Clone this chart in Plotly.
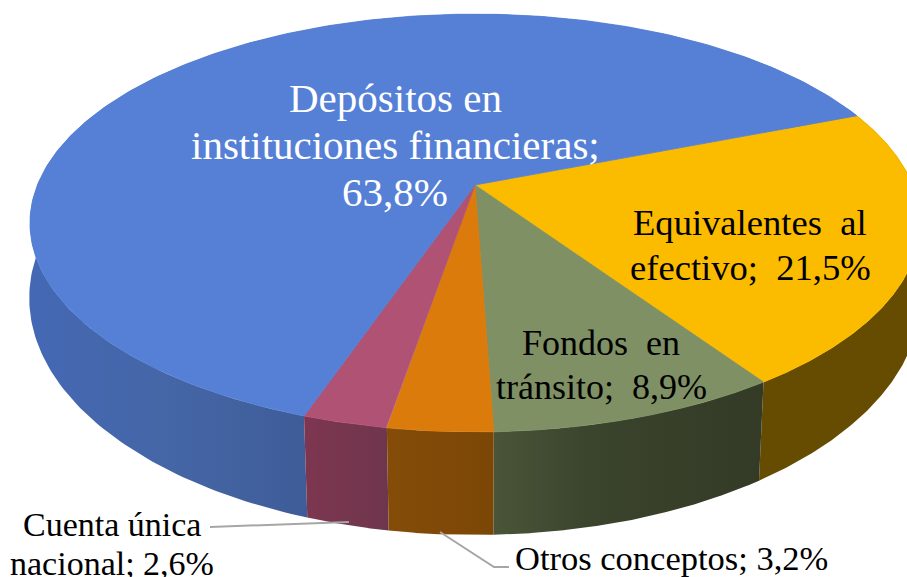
import numpy as np
import plotly.graph_objects as go

categories = ["Equivalentes  al", "Fondos en", "Otros conceptos", "Cuenta única", "Depósitos en"]
values = [21.5, 8.9, 3.2, 2.6, 63.8]
top_colors = ["#FBBC00", "#7F9064", "#DB7B0B", "#B05274", "#5580D6"]
wall_colors = [
    [[0, "#654C00"], [1, "#654C00"]],
    [[0, "#4A5538"], [0.35, "#3B442D"], [1, "#333A26"]],
    [[0, "#844C08"], [1, "#7C4606"]],
    [[0, "#7E3650"], [1, "#6E364C"]],
    [[0, "#4468B4"], [0.5, "#4566A6"], [1, "#3E5C98"]],
]
label_lines = [
    ["Equivalentes  al", "efectivo;  {}"],
    ["Fondos  en", "tránsito;  {}"],
    ["Otros conceptos; {}"],
    ["Cuenta única", "nacional; {}"],
    ["Depósitos en", "instituciones financieras;", "{}"],
]

# Perspective model of the pie disc (top face and bottom face)
CX, CY, RX, RY, K = 475, 185, 437.6, 202, 0.182
BX, BCY, BY, BK = 440, 260, 231, 0.16
START = np.radians(-21.45)


def top(t):
    w = 1 - K * np.sin(t)
    return CX + RX * np.cos(t) / w, CY + RY * np.sin(t) / w


def bottom(t):
    w = 1 - BK * np.sin(t)
    return CX + BX * np.cos(t) / w, BCY + BY * np.sin(t) / w


fracs = np.array(values) / sum(values)
edges = START + 2 * np.pi * np.concatenate([[0], np.cumsum(fracs)])

fig = go.Figure()
# side walls, back to front
for i in [4, 0, 3, 1, 2]:
    t = np.linspace(edges[i], edges[i + 1], 240)
    xt, yt = top(t)
    xb, yb = bottom(t)
    vis = np.sin(t) > -0.05
    x = np.concatenate([xt, xb[::-1]])
    y = np.concatenate([yt, yb[::-1]])
    fig.add_trace(go.Scatter(
        x=x, y=y, mode="lines", fill="toself", line=dict(width=0),
        fillgradient=dict(type="horizontal", colorscale=wall_colors[i],
                          start=float(xt[vis].min()), stop=float(xt[vis].max())),
        hoverinfo="skip", showlegend=False))
# top surface
for i in range(5):
    t = np.linspace(edges[i], edges[i + 1], 240)
    xt, yt = top(t)
    fig.add_trace(go.Scatter(
        x=np.concatenate([[CX], xt, [CX]]), y=np.concatenate([[CY], yt, [CY]]),
        mode="lines", fill="toself", fillcolor=top_colors[i],
        line=dict(width=0.8, color=top_colors[i]), hoverinfo="skip", showlegend=False))

# leader lines
fig.add_trace(go.Scatter(x=[210, 349], y=[527, 522], mode="lines",
                         line=dict(color="#A6A6A6", width=2), hoverinfo="skip", showlegend=False))
fig.add_trace(go.Scatter(x=[440, 494, 509], y=[532, 567, 567], mode="lines",
                         line=dict(color="#A6A6A6", width=2), hoverinfo="skip", showlegend=False))


def label(i):
    pct = f"{values[i]:.1f}%".replace(".", ",")
    return [s.format(pct) for s in label_lines[i]]


FONT = "Liberation Serif"
# index, centre x, y of first line, line step, font size, colour
placements = [
    (0, 750, 222, 45, 36.6, "#000000"),
    (1, 601, 343, 44, 36, "#000000"),
    (2, 671.5, 558, 0, 34.5, "#000000"),
    (3, 112, 524, 39, 34, "#000000"),
    (4, 395, 98, 47, 41, "#FFFFFF"),
]
for i, x, y, step, size, col in placements:
    for n, line in enumerate(label(i)):
        fig.add_annotation(x=x, y=y + n * step, text=line, showarrow=False, xanchor="center",
                           yanchor="middle", align="center",
                           font=dict(family=FONT, size=size, color=col))

fig.update_layout(
    width=907, height=577, margin=dict(l=0, r=0, t=0, b=0),
    paper_bgcolor="white", plot_bgcolor="white",
    xaxis=dict(range=[0, 907], visible=False, fixedrange=True),
    yaxis=dict(range=[577, 0], visible=False, fixedrange=True),
)
fig.write_html("out.html", config={"displayModeBar": False},
               post_script="document.body.style.margin='0';document.body.style.overflow='hidden';")
